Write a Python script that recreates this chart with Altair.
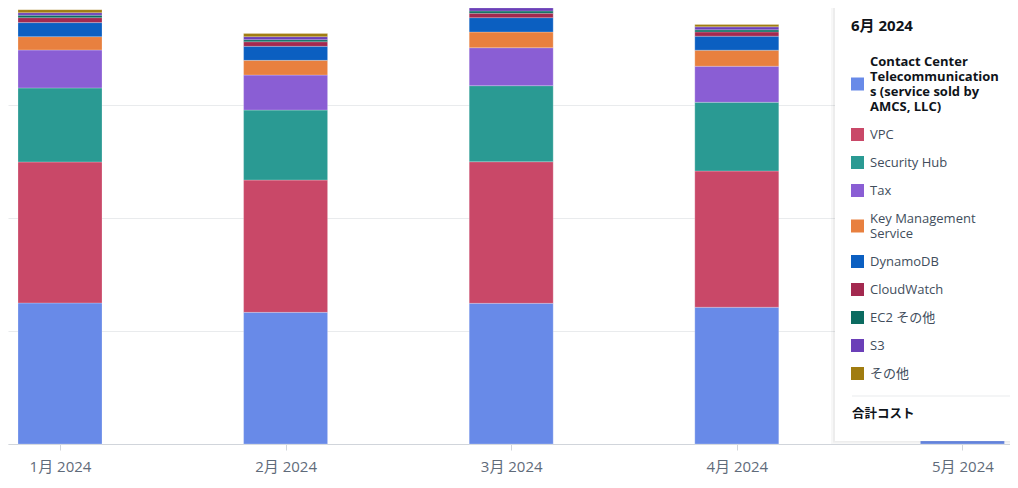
import json
import altair as alt
import pandas as pd

# ---------------- data ----------------
months = ["1月 2024", "2月 2024", "3月 2024", "4月 2024", "5月 2024"]
services = [
    "Contact Center Telecommunications (service sold by AMCS, LLC)",
    "VPC",
    "Security Hub",
    "Tax",
    "Key Management Service",
    "DynamoDB",
    "CloudWatch",
    "EC2 その他",
    "S3",
    "その他",
]
colors = ["#688ae8", "#c94868", "#2a9a93", "#8a5ed4", "#e8803f",
          "#0b5fc1", "#a3294f", "#0b6b60", "#6b3fb8", "#a07c10"]

contact    = [124.8, 116.5, 124.5, 121.0, 2.7]
vpc        = [124.8, 117.1, 125.3, 120.6, 0.0]
securityhub= [65.5, 61.9, 67.3, 60.8, 0.0]
tax        = [33.6, 31.0, 33.6, 31.9, 0.0]
kms        = [11.8, 13.0, 13.9, 14.2, 0.0]
dynamodb   = [12.4, 12.4, 12.7, 12.4, 0.0]
cloudwatch = [4.4, 4.1, 3.9, 3.8, 0.0]
ec2_other  = [2.2, 1.8, 2.0, 1.8, 0.0]
s3         = [2.2, 2.7, 2.9, 2.7, 0.0]
other      = [2.7, 2.7, 1.8, 2.0, 0.0]

panel_title = "6月 2024"
total_label = "合計コスト"
wrapped = {
    services[0]: ["Contact Center", "Telecommunication", "s (service sold by", "AMCS, LLC)"],
    "Key Management Service": ["Key Management", "Service"],
}

series = [contact, vpc, securityhub, tax, kms, dynamodb, cloudwatch, ec2_other, s3, other]
rows = []
for si, (svc, vals) in enumerate(zip(services, series)):
    for mi, v in enumerate(vals):
        if v > 0:
            rows.append({"month": mi + 1, "service": svc, "order": si, "value": v})
df = pd.DataFrame(rows)

FONT = "Open Sans, Noto Sans CJK JP"

# ---------------- layout ----------------
W, H = 1002, 436
STEP = 225.6
lo = 1 - 52 / STEP
hi = lo + W / STEP
LINE_H = 15  # legend label line height (Vega default fontSize + 2)
SWATCH = 13

month_expr = json.dumps(months, ensure_ascii=False) + "[datum.value - 1]"
label_expr = ""
for k, lines in wrapped.items():
    label_expr += f"datum.label == {json.dumps(k, ensure_ascii=False)} ? {json.dumps(lines, ensure_ascii=False)} : "
label_expr += "datum.label"
first = json.dumps(services[0], ensure_ascii=False)

# legend swatch centred on a multi-line label: shift the square path down
shape_expr = ""
for k, lines in wrapped.items():
    shift = (len(lines) - 1) * LINE_H / 2 / (SWATCH / 2)
    shape_expr += (f"datum.label == {json.dumps(k, ensure_ascii=False)} ? "
                   f"'M-1,{shift - 1:.3f}H1V{shift + 1:.3f}H-1Z' : ")
shape_expr += "'square'"

bars = alt.Chart(df).mark_bar(size=84, stroke="white", strokeWidth=0.4, strokeOpacity=0.6).encode(
    x=alt.X("month:Q",
            scale=alt.Scale(domain=[lo, hi], nice=False, zero=False, padding=0),
            axis=alt.Axis(values=list(range(1, len(months) + 1)), labelExpr=month_expr,
                          title=None, grid=False, tickSize=6, tickColor="#d1d5db",
                          domainColor="#d1d5db", labelColor="#5f6b7a", labelFont=FONT,
                          labelFontSize=15, labelPadding=9, labelFlush=False,
                          labelOverlap=False)),
    y=alt.Y("value:Q", stack="zero",
            scale=alt.Scale(domain=[0, H / 1.13], nice=False, padding=0),
            axis=alt.Axis(values=[0, 100, 200, 300], labels=False, ticks=False,
                          domain=False, grid=True, gridColor="#e9ebed", title=None)),
    color=alt.Color("service:N",
                    scale=alt.Scale(domain=services, range=colors),
                    legend=alt.Legend(
                        title=panel_title, orient="none", legendX=843, legendY=11,
                        titleFont=FONT, titleFontSize=15, titleFontWeight="bold",
                        titleColor="#0f141a", titlePadding=21,
                        symbolType={"expr": shape_expr},
                        symbolSize=SWATCH * SWATCH, symbolStrokeWidth=0,
                        labelFont=FONT, labelFontSize=13,
                        labelFontWeight={"expr": f"datum.label == {first} ? 'bold' : 'normal'"},
                        labelColor={"expr": f"datum.label == {first} ? '#0f141a' : '#414d5c'"},
                        labelExpr=label_expr, labelOffset=6, labelLimit=400,
                        rowPadding=14, padding=0, offset=0)),
    order=alt.Order("order:Q", sort="ascending"),
)

one = pd.DataFrame({"k": [0]})
shadow1 = alt.Chart(one).mark_rect(color="#000000", opacity=0.03).encode(
    x=alt.value(823), x2=alt.value(1010), y=alt.value(-10), y2=alt.value(436))
shadow2 = alt.Chart(one).mark_rect(color="#000000", opacity=0.04).encode(
    x=alt.value(825), x2=alt.value(1010), y=alt.value(-10), y2=alt.value(434.5))
panel = alt.Chart(one).mark_rect(color="white").encode(
    x=alt.value(827), x2=alt.value(1010), y=alt.value(-10), y2=alt.value(433))
sep = alt.Chart(one).mark_rule(color="#e9ebed", strokeWidth=1).encode(
    x=alt.value(844), x2=alt.value(1010), y=alt.value(388))
total = alt.Chart(pd.DataFrame({"t": [total_label]})).mark_text(
    align="left", baseline="middle", font=FONT, fontSize=12.5, fontWeight="bold",
    color="#0f141a").encode(x=alt.value(844), y=alt.value(406), text="t:N")

chart = alt.layer(bars, shadow1, shadow2, panel, sep, total).properties(
    width=W, height=H,
    autosize=alt.AutoSizeParams(type="none"),
    padding={"left": 0, "top": 0, "right": 0, "bottom": 36},
    background="white",
).configure_view(stroke=None)

chart.save("out.html", embed_options={"renderer": "svg", "actions": False})
